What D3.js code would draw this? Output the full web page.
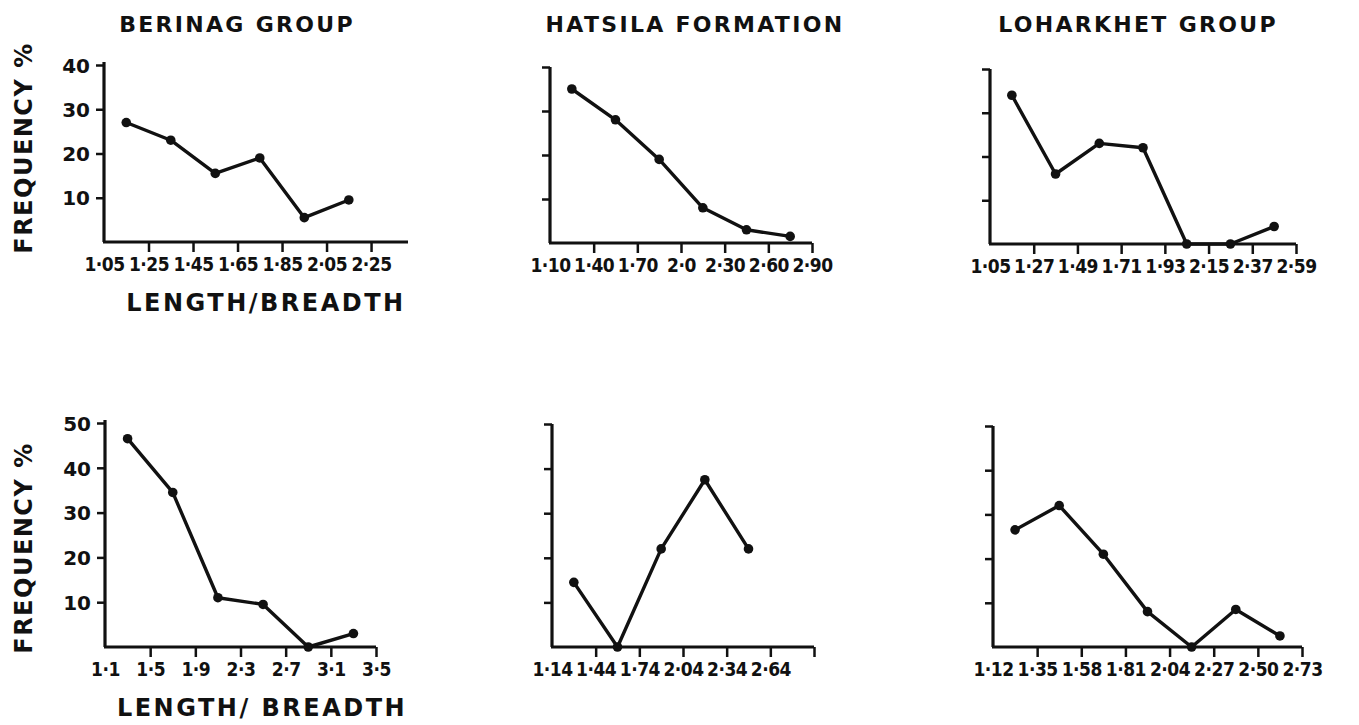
<!DOCTYPE html>
<html>
<head>
<meta charset="utf-8">
<script src="https://cdn.jsdelivr.net/npm/d3@7"></script>
<style>
  html, body { margin: 0; padding: 0; background: #ffffff; }
  svg { display: block; }
  text { font-family: "DejaVu Sans", "Liberation Sans", sans-serif; font-weight: bold; fill: #111; }
</style>
</head>
<body>
<svg id="chart" width="1359" height="725"></svg>
<script>
// ---------------- DATA ----------------
const groupTitles = ["BERINAG GROUP", "HATSILA FORMATION", "LOHARKHET GROUP"];
const yAxisTitle = "FREQUENCY %";
const xAxisTitle = "LENGTH/BREADTH";
const xAxisTitleBottom = "LENGTH/ BREADTH";

// Top row (class boundaries and frequency % per class)
const berinagTopLabels = ["1·05", "1·25", "1·45", "1·65", "1·85", "2·05", "2·25"];
const berinagTopFreq = [27, 23, 15.5, 19, 5.5, 9.5];

const hatsilaTopLabels = ["1·10", "1·40", "1·70", "2·0", "2·30", "2·60", "2·90"];
const hatsilaTopFreq = [35, 28, 19, 8, 3, 1.5];

const loharkhetTopLabels = ["1·05", "1·27", "1·49", "1·71", "1·93", "2·15", "2·37", "2·59"];
const loharkhetTopFreq = [34, 16, 23, 22, 0, 0, 4];

// Bottom row
const berinagBotLabels = ["1·1", "1·5", "1·9", "2·3", "2·7", "3·1", "3·5"];
const berinagBotFreq = [46.5, 34.5, 11, 9.5, 0, 3];

const hatsilaBotLabels = ["1·14", "1·44", "1·74", "2·04", "2·34", "2·64"];
const hatsilaBotFreq = [14.5, 0, 22, 37.5, 22];

const loharkhetBotLabels = ["1·12", "1·35", "1·58", "1·81", "2·04", "2·27", "2·50", "2·73"];
const loharkhetBotFreq = [26.5, 32, 21, 8, 0, 8.5, 2.5];

const yTicksTop = [10, 20, 30, 40];
const yTicksBot = [10, 20, 30, 40, 50];

// ---------------- LAYOUT ----------------
const panels = [
  { labels: berinagTopLabels, freq: berinagTopFreq, yMax: 40, yTicks: yTicksTop, showY: true,
    x0: 104, x1: 408, nEnd: 6.83, tickIdx: [1,2,3,4,5,6], y0: 242, yTop: 65, axisTop: 62 },
  { labels: hatsilaTopLabels, freq: hatsilaTopFreq, yMax: 40, yTicks: yTicksTop, showY: false,
    x0: 550, x1: 812, nEnd: 6, tickIdx: [1,2,3,4,5,6], y0: 243, yTop: 67, axisTop: 67 },
  { labels: loharkhetTopLabels, freq: loharkhetTopFreq, yMax: 40, yTicks: yTicksTop, showY: false,
    x0: 990, x1: 1296, nEnd: 7, tickIdx: [1,2,3,4,5,6,7], y0: 244, yTop: 69, axisTop: 69 },
  { labels: berinagBotLabels, freq: berinagBotFreq, yMax: 50, yTicks: yTicksBot, showY: true,
    x0: 105, x1: 376, nEnd: 6, tickIdx: [1,2,3,4,5,6], y0: 647, yTop: 423, axisTop: 420 },
  { labels: hatsilaBotLabels, freq: hatsilaBotFreq, yMax: 50, yTicks: yTicksBot, showY: false,
    x0: 552, x1: 814, nEnd: 6, tickIdx: [1,2,3,4,5,6], y0: 647, yTop: 424, axisTop: 424 },
  { labels: loharkhetBotLabels, freq: loharkhetBotFreq, yMax: 50, yTicks: yTicksBot, showY: false,
    x0: 993, x1: 1302, nEnd: 7, tickIdx: [1,2,3,4,5,6,7], y0: 647, yTop: 426, axisTop: 426 }
];

const svg = d3.select("#chart");
const ink = "#111";

panels.forEach(p => {
  const x = d3.scaleLinear().domain([0, p.nEnd]).range([p.x0, p.x1]);
  const y = d3.scaleLinear().domain([0, p.yMax]).range([p.y0, p.yTop]);
  const g = svg.append("g");

  // axes lines
  g.append("line").attr("x1", p.x0).attr("x2", p.x0).attr("y1", p.y0).attr("y2", p.axisTop)
    .attr("stroke", ink).attr("stroke-width", 3.2);
  g.append("line").attr("x1", p.x0 - 1).attr("x2", p.x1).attr("y1", p.y0).attr("y2", p.y0)
    .attr("stroke", ink).attr("stroke-width", 3.2);

  // y axis ticks
  const yAxis = d3.axisLeft(y).tickValues(p.yTicks).tickSize(8).tickSizeOuter(0)
    .tickFormat(d => p.showY ? d : "");
  const ya = g.append("g").attr("transform", `translate(${p.x0},0)`).call(yAxis);
  ya.select(".domain").remove();
  ya.selectAll(".tick line").attr("stroke", ink).attr("stroke-width", 2.5);
  ya.selectAll(".tick text").attr("x", -14).attr("dy", "0.36em")
    .style("font-size", "20px").style("font-family", "DejaVu Sans").style("font-weight", "bold").attr("fill", ink);

  // x axis ticks (marks)
  const xAxis = d3.axisBottom(x).tickValues(p.tickIdx).tickSize(10).tickSizeOuter(0).tickFormat("");
  const xa = g.append("g").attr("transform", `translate(0,${p.y0})`).call(xAxis);
  xa.select(".domain").remove();
  xa.selectAll(".tick line").attr("stroke", ink).attr("stroke-width", 2.5);

  // x labels at class boundaries
  const labelAxis = d3.axisBottom(x).tickValues(d3.range(p.labels.length)).tickSize(0)
    .tickFormat(i => p.labels[i]);
  const la = g.append("g").attr("transform", `translate(0,${p.y0})`).call(labelAxis);
  la.select(".domain").remove();
  la.selectAll(".tick text").attr("y", 16).attr("dy", "0.71em")
    .style("font-size", "19px").style("font-family", "DejaVu Sans Condensed, DejaVu Sans")
    .style("font-weight", "bold").style("letter-spacing", "-0.5px").attr("fill", ink);

  // line + markers at class midpoints
  const pts = p.freq.map((v, i) => [x(i + 0.5), y(v)]);
  g.append("path").attr("d", d3.line()(pts)).attr("fill", "none")
    .attr("stroke", ink).attr("stroke-width", 3.4).attr("stroke-linejoin", "round");
  g.selectAll("circle.pt").data(p.freq).join("circle").attr("class", "pt")
    .attr("cx", (v, i) => x(i + 0.5)).attr("cy", v => y(v)).attr("r", 4.8).attr("fill", ink);
});

// titles
const titleX = [237, 695, 1138];
groupTitles.forEach((t, i) => {
  svg.append("text").attr("x", titleX[i]).attr("y", 32).attr("text-anchor", "middle")
    .style("font-size", "22px").style("letter-spacing", "2.3px").text(t);
});

// y-axis titles
[[24, 148], [24, 548]].forEach(([cx, cy]) => {
  svg.append("text").attr("transform", `translate(${cx + 8},${cy}) rotate(-90)`)
    .attr("text-anchor", "middle").style("font-size", "24px").style("letter-spacing", "1.5px")
    .text(yAxisTitle);
});

// x-axis titles
svg.append("text").attr("x", 266).attr("y", 311).attr("text-anchor", "middle")
  .style("font-size", "24px").style("letter-spacing", "2.5px").text(xAxisTitle);
svg.append("text").attr("x", 262).attr("y", 716).attr("text-anchor", "middle")
  .style("font-size", "24px").style("letter-spacing", "2.5px").text(xAxisTitleBottom);
</script>
</body>
</html>
